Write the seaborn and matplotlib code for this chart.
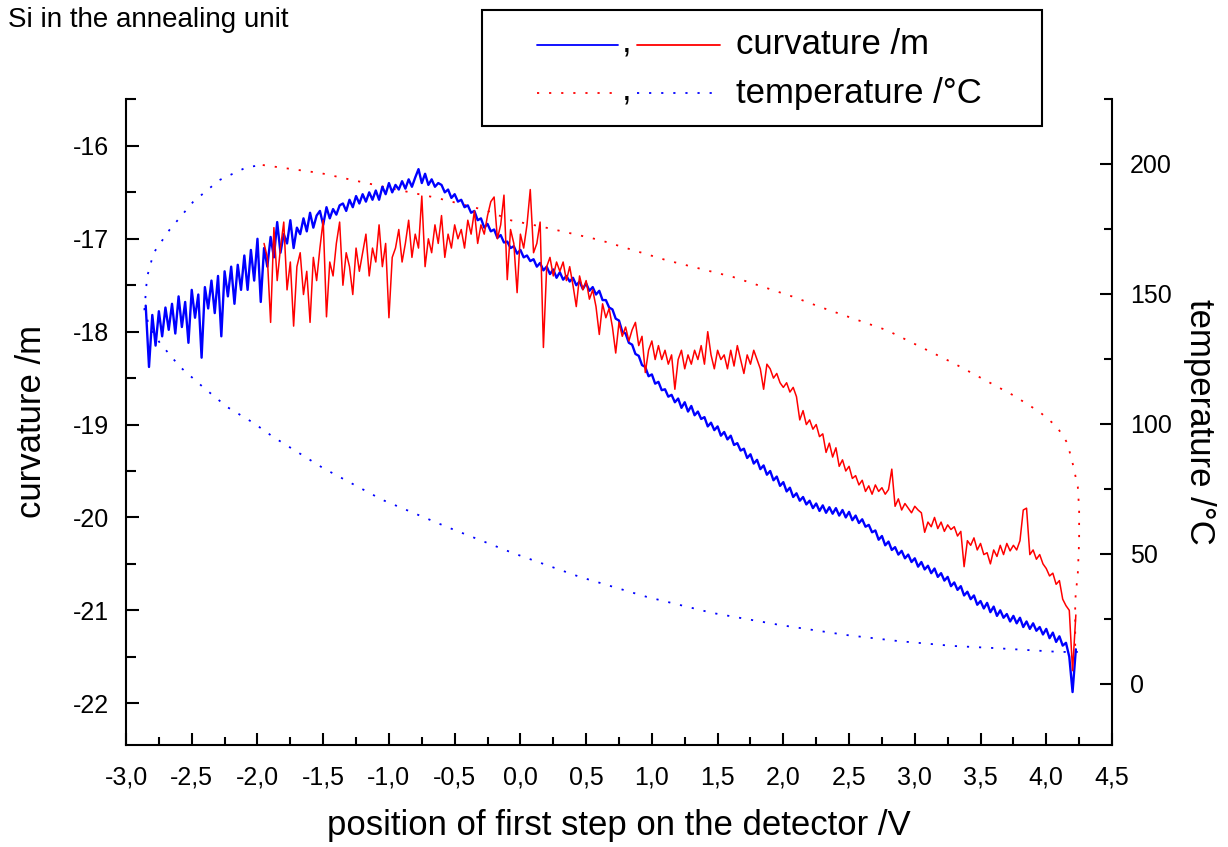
import numpy as np
import matplotlib
matplotlib.use("Agg")
import matplotlib.pyplot as plt
from matplotlib.lines import Line2D
from matplotlib.patches import Rectangle
from matplotlib.ticker import MultipleLocator, FixedLocator
import pandas as pd
import seaborn as sns

# ---------------- data ----------------
# curvature, first run (blue): uniformly sampled from x=-2.85 V to 4.225 V
curv_blue_start, curv_blue_stop = -2.85, 4.225
curv_blue = [
    -17.72, -18.38, -17.82, -18.15, -17.78, -18.05, -17.74, -17.98, -17.70, -18.02,
    -17.62, -17.95, -17.68, -18.12, -17.55, -17.85, -17.60, -18.28, -17.52, -17.75,
    -17.45, -17.80, -17.40, -18.05, -17.35, -17.62, -17.30, -17.70, -17.28, -17.55,
    -17.18, -17.55, -17.12, -17.45, -17.00, -17.68, -17.10, -17.30, -16.98, -17.20,
    -16.82, -17.15, -16.95, -17.05, -16.80, -17.10, -16.88, -16.95, -16.78, -16.92,
    -16.72, -16.88, -16.75, -16.70, -16.85, -16.66, -16.78, -16.68, -16.74, -16.64,
    -16.62, -16.70, -16.58, -16.66, -16.54, -16.62, -16.52, -16.60, -16.50, -16.58,
    -16.48, -16.58, -16.44, -16.52, -16.40, -16.50, -16.42, -16.47, -16.38, -16.46,
    -16.36, -16.44, -16.34, -16.25, -16.40, -16.30, -16.42, -16.36, -16.44, -16.40,
    -16.42, -16.50, -16.47, -16.56, -16.52, -16.60, -16.58, -16.66, -16.64, -16.72,
    -16.70, -16.80, -16.78, -16.88, -16.84, -16.92, -16.90, -16.99, -16.96, -17.04,
    -17.03, -17.10, -17.08, -17.16, -17.12, -17.20, -17.18, -17.24, -17.22, -17.30,
    -17.26, -17.34, -17.30, -17.38, -17.33, -17.42, -17.36, -17.44, -17.40, -17.46,
    -17.42, -17.50, -17.46, -17.54, -17.48, -17.56, -17.52, -17.60, -17.56, -17.66,
    -17.66, -17.74, -17.76, -17.86, -17.88, -18.00, -18.02, -18.12, -18.14, -18.24,
    -18.26, -18.36, -18.38, -18.48, -18.46, -18.56, -18.54, -18.63, -18.62, -18.70,
    -18.68, -18.76, -18.72, -18.82, -18.76, -18.86, -18.80, -18.90, -18.86, -18.94,
    -18.92, -19.02, -18.98, -19.06, -19.02, -19.12, -19.08, -19.16, -19.12, -19.22,
    -19.20, -19.28, -19.26, -19.36, -19.32, -19.42, -19.38, -19.48, -19.44, -19.54,
    -19.50, -19.60, -19.56, -19.66, -19.62, -19.72, -19.68, -19.78, -19.74, -19.82,
    -19.78, -19.86, -19.82, -19.90, -19.85, -19.93, -19.87, -19.95, -19.89, -19.96,
    -19.90, -19.98, -19.92, -20.00, -19.94, -20.03, -19.98, -20.06, -20.02, -20.10,
    -20.08, -20.16, -20.14, -20.24, -20.20, -20.30, -20.26, -20.35, -20.32, -20.40,
    -20.36, -20.44, -20.40, -20.48, -20.44, -20.53, -20.48, -20.56, -20.52, -20.60,
    -20.55, -20.64, -20.60, -20.68, -20.64, -20.74, -20.70, -20.78, -20.74, -20.84,
    -20.80, -20.88, -20.84, -20.94, -20.90, -20.98, -20.92, -21.02, -20.96, -21.06,
    -21.00, -21.08, -21.04, -21.12, -21.06, -21.14, -21.08, -21.18, -21.12, -21.20,
    -21.14, -21.22, -21.18, -21.26, -21.20, -21.30, -21.24, -21.34, -21.28, -21.38,
    -21.35, -21.50, -21.88, -21.42,
]

# curvature, second run (red): uniformly sampled from x=-1.95 V to 4.225 V
curv_red_start, curv_red_stop = -1.95, 4.225
curv_red = [
    -17.05, -17.20, -17.90, -16.88, -17.45, -17.10, -16.82, -17.55, -17.25, -17.94,
    -17.30, -17.15, -17.60, -17.35, -17.90, -17.20, -17.45, -17.10, -16.80, -17.84,
    -17.25, -17.40, -17.05, -16.82, -17.50, -17.15, -17.30, -17.60, -17.10, -17.35,
    -17.15, -16.95, -17.40, -17.10, -17.25, -16.85, -17.30, -17.05, -17.85, -17.20,
    -17.10, -16.90, -17.25, -17.05, -16.80, -17.20, -16.95, -17.10, -16.54, -17.30,
    -17.00, -17.15, -16.85, -17.05, -16.75, -17.20, -16.95, -17.10, -16.85, -17.00,
    -16.90, -17.10, -16.80, -16.95, -16.70, -17.05, -16.85, -16.95, -16.75, -16.60,
    -16.55, -17.00, -16.85, -16.53, -17.44, -16.90, -17.05, -17.58, -16.95, -17.10,
    -16.85, -16.47, -17.15, -17.05, -16.82, -18.17, -17.30, -17.20, -17.40, -17.25,
    -17.35, -17.25, -17.45, -17.30, -17.50, -17.73, -17.40, -17.55, -17.45, -17.65,
    -17.55, -17.73, -18.03, -17.70, -17.85, -17.75, -17.95, -18.23, -17.90, -18.05,
    -17.95, -18.10, -17.98, -17.90, -18.15, -18.05, -18.44, -18.20, -18.10, -18.30,
    -18.15, -18.30, -18.20, -18.35, -18.25, -18.62, -18.30, -18.20, -18.40, -18.25,
    -18.35, -18.20, -18.30, -18.15, -18.35, -18.00, -18.25, -18.40, -18.20, -18.30,
    -18.25, -18.40, -18.20, -18.37, -18.15, -18.30, -18.45, -18.25, -18.35, -18.20,
    -18.30, -18.40, -18.62, -18.35, -18.40, -18.50, -18.45, -18.55, -18.60, -18.55,
    -18.65, -18.60, -18.70, -18.95, -18.85, -19.00, -18.95, -19.05, -19.00, -19.13,
    -19.10, -19.30, -19.20, -19.35, -19.25, -19.45, -19.38, -19.50, -19.45, -19.58,
    -19.55, -19.65, -19.60, -19.72, -19.66, -19.75, -19.65, -19.72, -19.68, -19.75,
    -19.70, -19.48, -19.88, -19.80, -19.92, -19.85, -19.90, -19.95, -19.88, -19.92,
    -19.95, -20.16, -20.05, -20.10, -20.00, -20.12, -20.05, -20.15, -20.08, -20.13,
    -20.10, -20.20, -20.15, -20.53, -20.25, -20.30, -20.22, -20.35, -20.28, -20.40,
    -20.38, -20.50, -20.35, -20.42, -20.30, -20.40, -20.28, -20.36, -20.30, -20.35,
    -20.25, -19.92, -19.90, -20.40, -20.35, -20.45, -20.40, -20.50, -20.55, -20.63,
    -20.60, -20.72, -20.68, -20.88, -20.95, -21.00, -21.65, -21.05,
]

# temperature, heating (blue dotted), in time order
temp_blue_x = [4.24, 4.10, 3.60, 3.29, 2.87, 2.48, 1.97, 1.46, 0.96, 0.45, -0.06,
               -0.56, -1.05, -1.50, -1.88, -2.03, -2.23, -2.41, -2.59, -2.74, -2.82,
               -2.86, -2.85, -2.84, -2.79, -2.67, -2.49, -2.29, -2.08, -1.96]
temp_blue = [12.3, 12.3, 13.8, 14.6, 16.5, 18.8, 22.7, 27.3, 33.5, 41.2, 50.4,
             60.4, 70.8, 83.0, 95.0, 100.4, 106.5, 114.0, 122.0, 131.0, 137.0,
             144.0, 150.0, 156.5, 165.8, 174.6, 185.4, 193.8, 198.8, 199.6]

# temperature, cooling (red dotted), in time order
temp_red_x = [-1.96, -1.52, -1.02, -0.64, -0.25, -0.07, 0.17, 0.60, 1.11, 1.62, 2.07,
              2.28, 2.79, 3.29, 3.75, 3.95, 4.08, 4.16, 4.20, 4.24, 4.25, 4.25, 4.24,
              4.22, 4.22, 4.22]
temp_red = [199.6, 196.5, 191.0, 187.0, 182.0, 178.3, 175.8, 170.8, 163.0, 156.5, 149.0,
            145.0, 136.0, 123.5, 111.0, 104.6, 99.0, 92.7, 85.0, 75.8, 67.0, 55.0, 42.7,
            32.0, 20.0, 13.0]

x_ticks = [-3.0, -2.5, -2.0, -1.5, -1.0, -0.5, 0.0, 0.5, 1.0, 1.5, 2.0, 2.5, 3.0, 3.5, 4.0, 4.5]
x_tick_labels = ["-3,0", "-2,5", "-2,0", "-1,5", "-1,0", "-0,5", "0,0", "0,5",
                 "1,0", "1,5", "2,0", "2,5", "3,0", "3,5", "4,0", "4,5"]
curv_ticks = [-22, -21, -20, -19, -18, -17, -16]
temp_ticks = [0, 50, 100, 150, 200]

# ---------------- style ----------------
sns.set_theme(style="ticks")
plt.rcParams["font.family"] = ["Liberation Sans", "DejaVu Sans"]
plt.rcParams["text.color"] = "black"
plt.rcParams["axes.labelcolor"] = "black"
plt.rcParams["xtick.color"] = "black"
plt.rcParams["ytick.color"] = "black"

W, H = 1228, 847
fig = plt.figure(figsize=(W / 100, H / 100), dpi=100)
L, R, B, T = 126, 1112, 745, 99
ax = fig.add_axes([L / W, 1 - B / H, (R - L) / W, (B - T) / H])
ax2 = ax.twinx()

df_b = pd.DataFrame({"x": np.linspace(curv_blue_start, curv_blue_stop, len(curv_blue)),
                     "y": curv_blue})
df_r = pd.DataFrame({"x": np.linspace(curv_red_start, curv_red_stop, len(curv_red)),
                     "y": curv_red})
df_tb = pd.DataFrame({"x": temp_blue_x, "y": temp_blue})
df_tr = pd.DataFrame({"x": temp_red_x, "y": temp_red})

dot_style = (0, (1.2, 5.5))
sns.lineplot(data=df_tb, x="x", y="y", ax=ax2, sort=False, estimator=None,
             color="#0000ff", lw=1.3, linestyle=dot_style)
sns.lineplot(data=df_tr, x="x", y="y", ax=ax2, sort=False, estimator=None,
             color="#ff0000", lw=1.3, linestyle=dot_style)

sns.lineplot(data=df_b, x="x", y="y", ax=ax, sort=False, estimator=None,
             color="#0000ff", lw=1.7)
sns.lineplot(data=df_r, x="x", y="y", ax=ax, sort=False, estimator=None,
             color="#ff0000", lw=1.1)

ax.set_zorder(ax2.get_zorder() + 1)
ax.patch.set_visible(False)

ax.set_xlim(-3.0, 4.5)
ax.set_ylim(-22.45, -15.495)
ax2.set_ylim(-23.5, 225)

ax.xaxis.set_major_locator(FixedLocator(x_ticks))
ax.set_xticklabels(x_tick_labels)
ax.xaxis.set_minor_locator(MultipleLocator(0.25))
ax.yaxis.set_major_locator(FixedLocator(curv_ticks))
ax.set_yticklabels([str(v) for v in curv_ticks])
ax.yaxis.set_minor_locator(MultipleLocator(0.5))
ax2.yaxis.set_major_locator(FixedLocator(temp_ticks))
ax2.set_yticklabels([str(v) for v in temp_ticks])
ax2.yaxis.set_minor_locator(MultipleLocator(25))

for a in (ax, ax2):
    a.spines["top"].set_visible(False)
    for s in ("left", "right", "bottom"):
        a.spines[s].set_linewidth(1.5)
        a.spines[s].set_color("black")
    a.tick_params(which="both", direction="in", width=1.5, color="black",
                  labelsize=18, labelcolor="black")
    a.tick_params(which="major", length=9)
    a.tick_params(which="minor", length=6)
ax.spines["right"].set_visible(False)
ax2.spines["left"].set_visible(False)
ax2.spines["bottom"].set_visible(False)
ax.tick_params(axis="y", which="minor", length=7)
ax.tick_params(axis="y", pad=12)
ax.tick_params(axis="x", pad=15)
ax2.tick_params(axis="y", pad=13)

ax.set_xlabel("position of first step on the detector /V", fontsize=25, labelpad=14,
              color="black")
ax.set_ylabel("curvature /m", fontsize=25, labelpad=18, color="black")
ax2.set_ylabel("temperature /°C", fontsize=25, rotation=-90, va="bottom", labelpad=8,
               color="black")

fig.text(8 / W, 1 - 20 / H, "Si in the annealing unit", fontsize=20, ha="left",
         va="center", color="black")

# ---------------- legend (drawn in figure pixel coordinates) ----------------
def fx(px):
    return px / W

def fy(py):
    return 1 - py / H

fig.add_artist(Rectangle((fx(482), fy(126)), (1042 - 482) / W, (126 - 10) / H,
                         fill=False, ec="black", lw=1.5, transform=fig.transFigure))
rows = [
    (45, "#0000ff", "#ff0000", "-", "curvature /m"),
    (93, "#ff0000", "#0000ff", dot_style, "temperature /°C"),
]
for py, c1, c2, ls, label in rows:
    fig.add_artist(Line2D([fx(537), fx(618)], [fy(py), fy(py)], color=c1, lw=1.3,
                          linestyle=ls, transform=fig.transFigure))
    fig.add_artist(Line2D([fx(637), fx(720)], [fy(py), fy(py)], color=c2, lw=1.3,
                          linestyle=ls, transform=fig.transFigure))
    fig.text(fx(627), fy(py + 7), ",", fontsize=25, ha="center", va="baseline",
             color="black")
    fig.text(fx(736), fy(py), label, fontsize=25, ha="left", va="center", color="black")

fig.savefig("out.png", dpi=100)
